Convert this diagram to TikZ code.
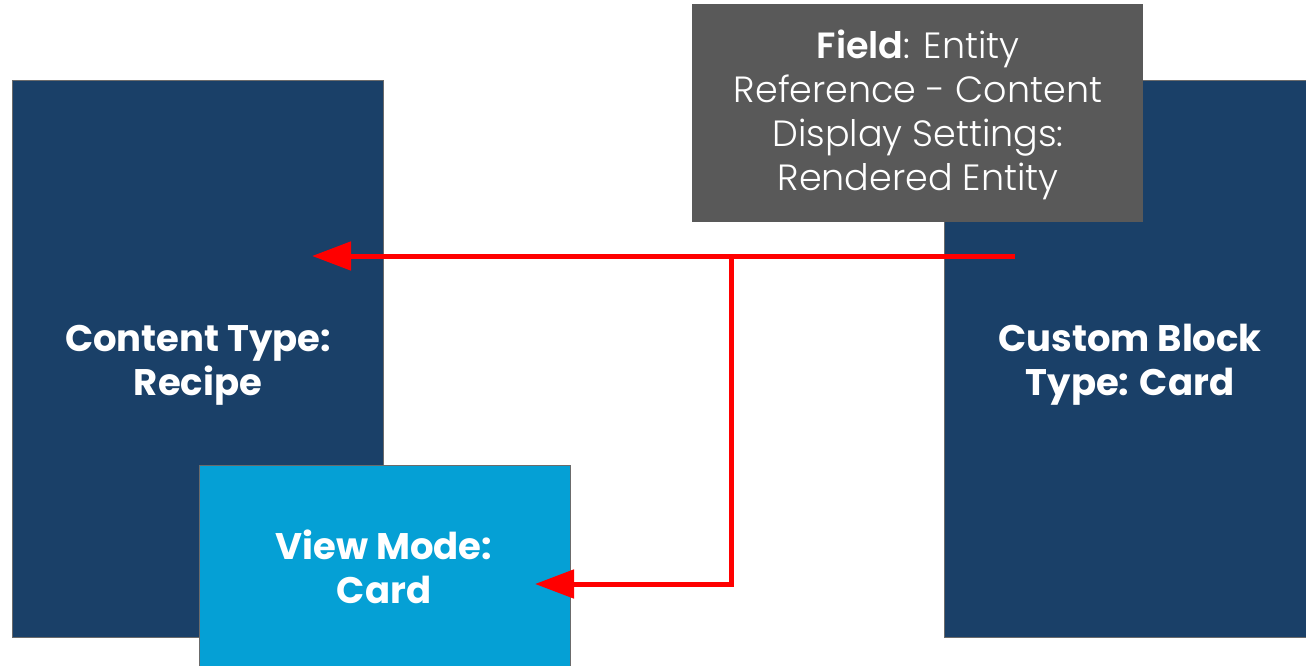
\documentclass[tikz,border=0pt]{standalone}
\usepackage{fontspec}
\setmainfont{Poppins}
\newfontfamily\lightfont{Poppins Light}
\usetikzlibrary{arrows.meta}
\definecolor{navy}{HTML}{1A4068}
\definecolor{sky}{HTML}{05A0D5}
\definecolor{slate}{HTML}{595959}
\definecolor{edge}{HTML}{6B6B6B}
\tikzset{
  bigbox/.style={draw=edge, line width=1.2pt, fill=navy, anchor=north west, inner sep=0pt},
  viewbox/.style={draw=edge, line width=1.2pt, fill=sky, anchor=north west, inner sep=0pt},
  greybox/.style={fill=slate, anchor=north west, inner sep=0pt},
  boxtext/.style={text=white, align=center, font=\fontsize{37}{44}\selectfont\bfseries},
  greytext/.style={text=white, align=center, font=\fontsize{36.5}{44}\selectfont\lightfont},
  redline/.style={draw=red, line width=5pt, -{Triangle[length=39pt,width=28pt]}}
}
\begin{document}
\begin{tikzpicture}[x=1pt,y=-1pt]
\useasboundingbox (0,0) rectangle (1306,666);
\clip (0,0) rectangle (1306,666);
\node[bigbox, minimum width=371pt, minimum height=557pt] (recipe) at (12,80) {};
\node[bigbox, minimum width=372pt, minimum height=557pt] (custom) at (944,80) {};
\node[viewbox, minimum width=371pt, minimum height=206pt] (view) at (199,465) {};
\node[greybox, minimum width=451pt, minimum height=218pt] (field) at (692,4) {};
\node[boxtext] (recipeT) at (198,365) {Content Type:\\Recipe};
\node[boxtext] (customT) at (1130,365) {Custom Block\\Type: Card};
\node[boxtext] (viewT) at (384,567) {View Mode:\\Card};
\node[greytext] (fieldT) at (918,114.5) {{\bfseries Field}: Entity\\Reference - Content\\Display Settings:\\Rendered Entity};
\coordinate (src) at (1015,256);
\coordinate (junc) at (731,256);
\coordinate (tipA) at (312,256);
\coordinate (bend) at (731,584);
\coordinate (tipB) at (535,584);
\draw[redline] (src) -- (tipA);
\draw[redline] (junc) -- (bend) -- (tipB);
\end{tikzpicture}
\end{document}
